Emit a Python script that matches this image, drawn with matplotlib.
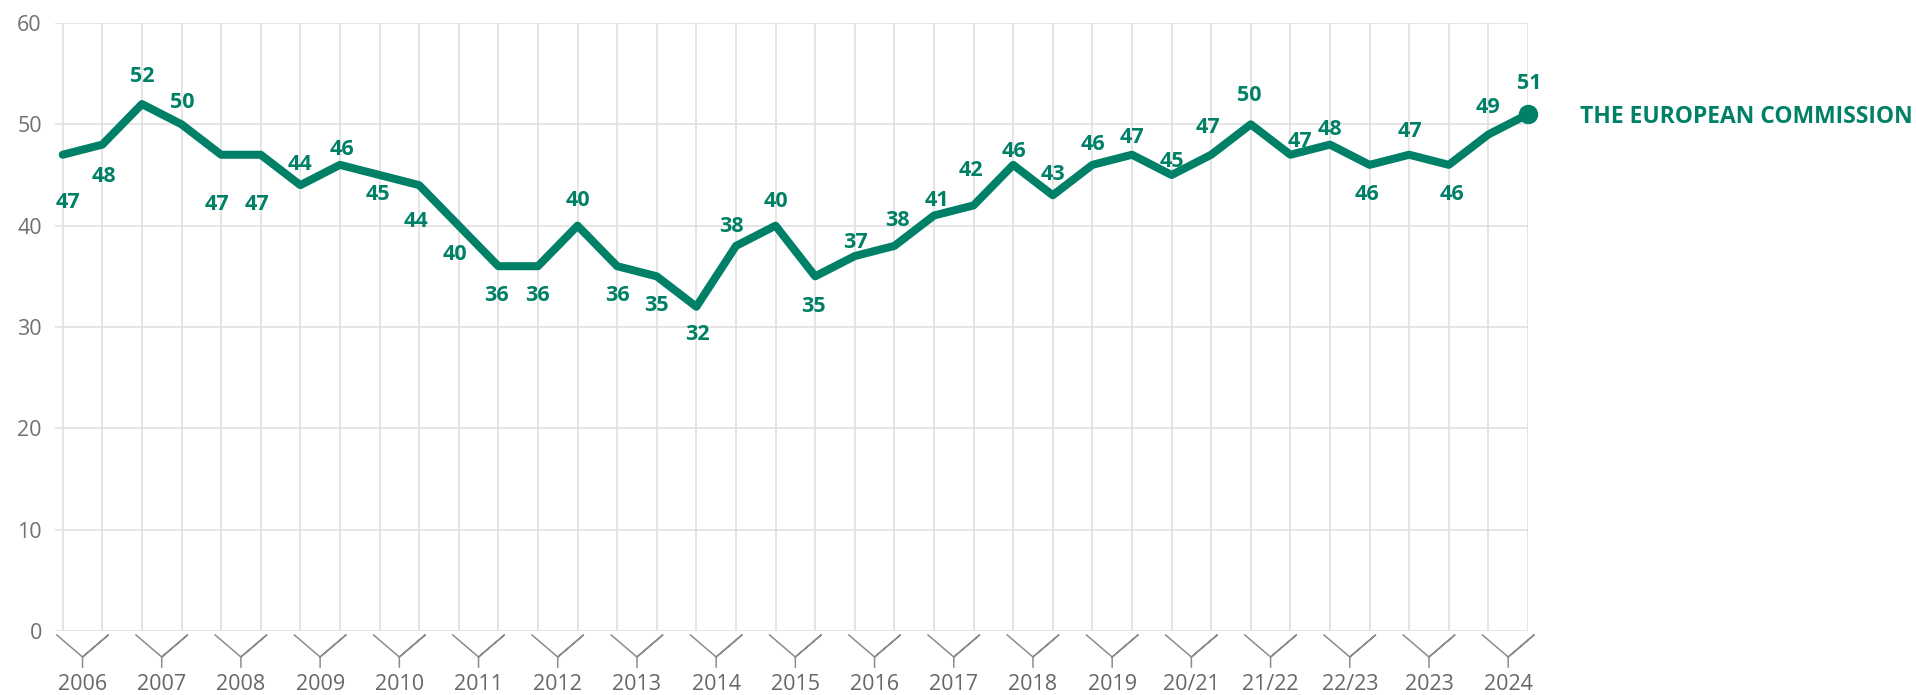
import numpy as np
import matplotlib.pyplot as plt
from matplotlib.transforms import blended_transform_factory

# --- data ---
years = ["2006", "2007", "2008", "2009", "2010", "2011", "2012", "2013", "2014",
         "2015", "2016", "2017", "2018", "2019", "20/21", "21/22", "22/23", "2023", "2024"]
values = [47, 48, 52, 50, 47, 47, 44, 46, 45, 44, 40, 36, 36, 40, 36, 35, 32, 38, 40,
          35, 37, 38, 41, 42, 46, 43, 46, 47, 45, 47, 50, 47, 48, 46, 47, 46, 49, 51]
series_name = "THE EUROPEAN COMMISSION"

# label placement, pixel offsets (dx, dy) of label centre from the point (dy > 0 = below)
label_offsets = [(5, 46), (2, 30), (0, -30), (1, -24), (-4, 48), (-4, 48), (0, -23), (2, -18),
                 (-2, 17), (-3, 34), (-4, 27), (-2, 27), (-1, 27), (0, -27), (0, 27), (0, 27),
                 (1, 26), (-5, -22), (0, -26), (-2, 28), (1, -16), (3, -28), (3, -17), (-3, -37),
                 (1, -16), (0, -23), (1, -23), (0, -19), (0, -16), (-3, -29), (-2, -31), (10, -15),
                 (0, -17), (-3, 27), (1, -25), (3, 27), (0, -29), (1, -33)]

GREEN = "#008066"
GRID = "#dedede"
TICK = "#707070"
FONT = "Open Sans"
PX = 0.72  # points per pixel at dpi 100

x = np.arange(len(values))

fig = plt.figure(figsize=(19.16, 6.95), dpi=100)
ax = fig.add_axes([55 / 1916, 64 / 695, 1473 / 1916, 608 / 695])

ax.plot(x, values, color=GREEN, lw=5.8, solid_joinstyle="round",
        solid_capstyle="round", clip_on=False, zorder=3)
ax.plot(x[-1], values[-1], "o", color=GREEN, ms=13, clip_on=False, zorder=4)

ax.set_xlim(-0.195, len(values) - 1)
ax.set_ylim(0, 60)
ax.set_yticks(range(0, 61, 10))
ax.set_xticks(x)
ax.set_xticklabels([])
ax.grid(True, color=GRID, lw=1.1, zorder=0)
ax.tick_params(axis="x", length=0)
ax.tick_params(axis="y", length=0, pad=9.5, labelsize=15.5, labelcolor=TICK)
for lab in ax.get_yticklabels():
    lab.set_fontfamily(FONT)
for s in ax.spines.values():
    s.set_visible(False)

# data labels
cap = 0.714 * 15.5 / PX  # cap height in px
for xi, v, (dx, dy) in zip(x, values, label_offsets):
    ax.annotate(str(v), (xi, v), xytext=(dx * PX, -(dy + cap / 2) * PX),
                textcoords="offset points", ha="center", va="baseline",
                fontsize=15.5, fontweight="bold", color=GREEN, family=FONT,
                annotation_clip=False, zorder=5)

# series label
ax.annotate(series_name, (x[-1], values[-1]), xytext=(52 * PX, 0),
            textcoords="offset points", ha="left", va="center_baseline",
            fontsize=16.5, fontweight="bold", color=GREEN, family=FONT,
            annotation_clip=False)

# year brackets under the axis
tr = blended_transform_factory(ax.transData, ax.transAxes)
h = 608.0
for j, yr in enumerate(years):
    a, b = x[2 * j], x[2 * j + 1]
    mid = (a + b) / 2
    ax.plot([a - 0.15, mid, b + 0.15, mid, mid],
            [-4 / h, -26 / h, -4 / h, -26 / h, -36 / h],
            color="#8c8c8c", lw=1.1, transform=tr, clip_on=False)
    ax.text(mid, -54 / h, yr, transform=tr, ha="center", va="center",
            fontsize=15.5, color="#6b6468", family=FONT)

fig.savefig("out.png", dpi=100)
